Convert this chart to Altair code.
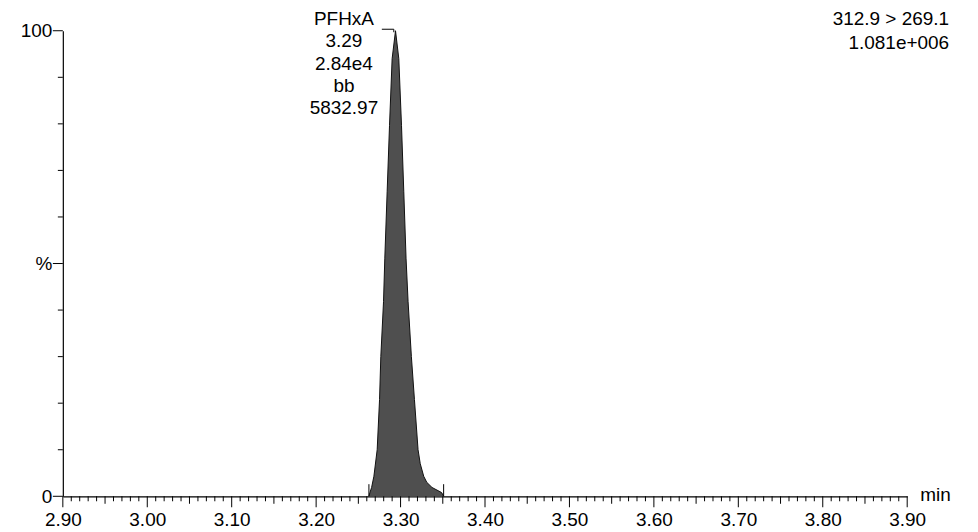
import altair as alt
import pandas as pd

# ---- data ----
PEAK_TIME = [3.2625, 3.2637, 3.2657, 3.2684, 3.2723, 3.2751, 3.2766, 3.2798, 3.2813,
             3.2841, 3.2869, 3.2900, 3.2940, 3.2979, 3.3011, 3.3038, 3.3065, 3.3089,
             3.3128, 3.3164, 3.3207, 3.3233, 3.3274, 3.3310, 3.3372, 3.3486, 3.3510]
PEAK_PCT = [0, 0.8, 1.9, 4.3, 10, 20.8, 30, 41.8, 51,
            65.4, 79.6, 94, 100, 94, 79.6, 65.4, 51, 41.8,
            30, 20.8, 10, 7, 4.3, 3, 1.9, 0.8, 0]

BASE_MARKS = [3.2625, 3.351]

X_LABELS = [2.90, 3.00, 3.10, 3.20, 3.30, 3.40, 3.50, 3.60, 3.70, 3.80, 3.90]
X_MID = [2.95, 3.05, 3.15, 3.25, 3.35, 3.45, 3.55, 3.65, 3.75, 3.85]
X_MINOR = [round(2.90 + i * 0.01, 2) for i in range(101) if i % 5 != 0]
Y_MAJOR = [0, 50, 100]
Y_MINOR = [10, 20, 30, 40, 60, 70, 80, 90]

PEAK_LABEL = ["PFHxA", "3.29", "2.84e4", "bb", "5832.97"]
HEADER_RIGHT = ["F1:MRM of 3 channels,ES-", "312.9 > 269.1", "1.081e+006"]
HEADER_LEFT = "170117a1_17"
X_UNIT = "min"

FONT = "Liberation Sans"
W, H = 847, 467

peak_df = pd.DataFrame({"t": PEAK_TIME, "pct": PEAK_PCT})
xs = alt.Scale(domain=[2.90, 3.90], nice=False, zero=False)
ys = alt.Scale(domain=[0, 100], nice=False, zero=False)

x_axis = alt.Axis(
    values=X_LABELS, format=".2f", ticks=False, grid=False, domain=True,
    domainColor="black", domainWidth=1.2, labelFont=FONT, labelFontSize=19,
    labelColor="black", labelPadding=14, labelFlush=False, labelOverlap=False,
    title=None)
y_axis = alt.Axis(
    values=Y_MAJOR, ticks=False, grid=False, domain=True, domainColor="black",
    domainWidth=1.2, labelFont=FONT, labelFontSize=19, labelColor="black",
    labelPadding=11, labelFlush=False, labelOverlap=False,
    labelExpr="datum.value == 50 ? '%' : datum.label", title=None)

peak = alt.Chart(peak_df).mark_area(
    color="#4f4f4f", opacity=1, line={"color": "#111111", "strokeWidth": 1},
    interpolate="linear"
).encode(
    x=alt.X("t:Q", scale=xs, axis=x_axis),
    y=alt.Y("pct:Q", scale=ys, axis=y_axis),
)

def xrule(vals, length):
    return alt.Chart(pd.DataFrame({"t": vals})).mark_rule(
        color="black", strokeWidth=1
    ).encode(x=alt.X("t:Q", scale=xs, axis=x_axis), y=alt.value(H), y2=alt.value(H + length))

def yrule(vals, length):
    return alt.Chart(pd.DataFrame({"pct": vals})).mark_rule(
        color="black", strokeWidth=1
    ).encode(y=alt.Y("pct:Q", scale=ys, axis=y_axis), x=alt.value(-length), x2=alt.value(0))

base_marks = alt.Chart(pd.DataFrame({"t": BASE_MARKS, "pct": [0, 0], "top": [2.6, 2.6]})).mark_rule(
    color="black", strokeWidth=1
).encode(x=alt.X("t:Q", scale=xs, axis=x_axis),
         y=alt.Y("pct:Q", scale=ys, axis=y_axis), y2="top:Q")

label_df = pd.DataFrame({"k": [0]})
peak_label = alt.Chart(label_df).mark_text(
    font=FONT, fontSize=19, color="black", align="center", baseline="middle",
    lineHeight=22.5
).encode(x=alt.value(282), y=alt.value(-12), text=alt.value(PEAK_LABEL))

leader_h = alt.Chart(label_df).mark_rule(color="black", strokeWidth=1).encode(
    x=alt.value(320), x2=alt.value(332), y=alt.value(-1.5))
leader_v = alt.Chart(label_df).mark_rule(color="black", strokeWidth=1).encode(
    x=alt.value(332), y=alt.value(-1.5), y2=alt.value(1.5))

header_right = alt.Chart(label_df).mark_text(
    font=FONT, fontSize=19, color="black", align="right", baseline="middle",
    lineHeight=23.5
).encode(x=alt.value(889), y=alt.value(-35), text=alt.value(HEADER_RIGHT))

header_left = alt.Chart(label_df).mark_text(
    font=FONT, fontSize=19, color="black", align="left", baseline="middle"
).encode(x=alt.value(-48), y=alt.value(-35), text=alt.value(HEADER_LEFT))

unit = alt.Chart(label_df).mark_text(
    font=FONT, fontSize=19, color="black", align="left", baseline="middle"
).encode(x=alt.value(860), y=alt.value(H - 1), text=alt.value(X_UNIT))

chart = alt.layer(
    peak,
    xrule(X_LABELS, 11), xrule(X_MID, 7.5), xrule(X_MINOR, 5),
    yrule(Y_MAJOR, 10), yrule(Y_MINOR, 5),
    base_marks, leader_h, leader_v, peak_label, header_right, header_left, unit,
).properties(
    width=W, height=H,
    autosize=alt.AutoSizeParams(type="none"),
    padding={"left": 55, "top": 22, "right": 63, "bottom": 34},
    background="white",
).configure_view(stroke=None)

chart.save("out.html", embed_options={"renderer": "svg", "actions": False})
